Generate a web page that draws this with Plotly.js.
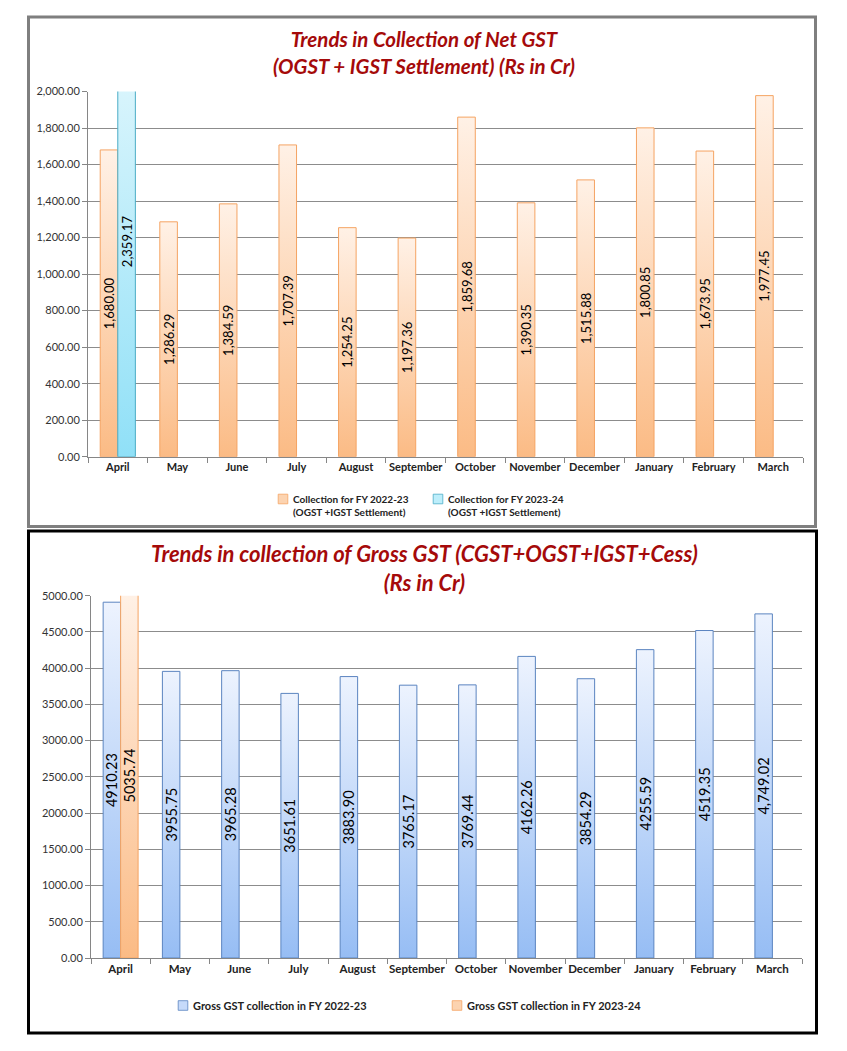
<!DOCTYPE html>
<html><head><meta charset="utf-8">
<script src="https://cdn.plot.ly/plotly-3.0.1.min.js"></script>
<style>html,body{margin:0;padding:0;background:#fff}#chart{width:847px;height:1051px}</style>
</head><body><div id="chart"></div>
<script>
const months = ['April','May','June','July','August','September','October','November','December','January','February','March'];
const netFY2223 = [1680.00,1286.29,1384.59,1707.39,1254.25,1197.36,1859.68,1390.35,1515.88,1800.85,1673.95,1977.45];
const netFY2324 = [2359.17,null,null,null,null,null,null,null,null,null,null,null];
const grossFY2223 = [4910.23,3955.75,3965.28,3651.61,3883.90,3765.17,3769.44,4162.26,3854.29,4255.59,4519.35,4749.02];
const grossFY2223Labels = ['4910.23','3955.75','3965.28','3651.61','3883.90','3765.17','3769.44','4162.26','3854.29','4255.59','4519.35','4,749.02'];
const grossFY2324 = [5035.74,null,null,null,null,null,null,null,null,null,null,null];
const grossFY2324Labels = ['5035.74','','','','','','','','','','',''];

const W = 847, H = 1051;
const px = v => v / W;
const py = v => 1 - v / H;

const labelFont = (s) => ({family: 'Lato', size: s, color: '#000'});
const common = {type: 'bar', x: months, textposition: 'inside', textangle: -90,
  insidetextanchor: 'middle', constraintext: 'none', cliponaxis: true, hoverinfo: 'skip'};

const data = [
  Object.assign({}, common, {y: netFY2223, xaxis: 'x', yaxis: 'y', legend: 'legend',
    name: 'Collection for FY 2022-23<br>(OGST +IGST Settlement)',
    texttemplate: '%{y:,.2f}', textfont: labelFont(13),
    marker: {color: '#fcd3b0', line: {color: '#f5a463', width: 1}}}),
  Object.assign({}, common, {y: netFY2324, xaxis: 'x', yaxis: 'y', legend: 'legend2',
    name: 'Collection for FY 2023-24<br>(OGST +IGST Settlement)',
    texttemplate: '%{y:,.2f}', textfont: labelFont(13),
    marker: {color: '#bdeefb', line: {color: '#4bacc6', width: 1}}}),
  Object.assign({}, common, {y: grossFY2223, text: grossFY2223Labels, texttemplate: '%{text}',
    xaxis: 'x2', yaxis: 'y2', legend: 'legend3',
    name: 'Gross GST collection in FY 2022-23', textfont: labelFont(14.5),
    marker: {color: '#c6dafa', line: {color: '#5b84c0', width: 1}}}),
  Object.assign({}, common, {y: grossFY2324, text: grossFY2324Labels, texttemplate: '%{text}',
    xaxis: 'x2', yaxis: 'y2', legend: 'legend4',
    name: 'Gross GST collection in FY 2023-24', textfont: labelFont(14.5),
    marker: {color: '#fcd3b0', line: {color: '#f5a463', width: 1}}})
];

const xCommon = {type: 'category', showline: true, linecolor: '#868686', linewidth: 1,
  ticks: 'outside', tickson: 'boundaries', ticklen: 5, tickcolor: '#868686', tickangle: 0,
  showgrid: false, zeroline: false, fixedrange: true,
  tickfont: {family: 'Lato', size: 11, color: '#222', weight: 'bold'}};
const yCommon = {showline: true, linecolor: '#868686', linewidth: 1, ticks: 'outside',
  ticklen: 5, tickcolor: '#868686', showgrid: true, gridcolor: '#8c8c8c', gridwidth: 1,
  zeroline: false, fixedrange: true,
  tickfont: {family: 'Lato', size: 11, color: '#333'}};

const legTop = (x) => ({orientation: 'h', x: px(x), y: py(486), xanchor: 'left', yanchor: 'top',
  valign: 'top', bgcolor: 'rgba(0,0,0,0)',
  font: {family: 'Lato', size: 10, color: '#222', weight: 'bold'}});
const legBot = (x) => ({orientation: 'h', x: px(x), y: py(991), xanchor: 'left', yanchor: 'top',
  bgcolor: 'rgba(0,0,0,0)',
  font: {family: 'Lato', size: 11, color: '#222', weight: 'bold'}});

const layout = {
  width: W, height: H, margin: {l: 0, r: 0, t: 0, b: 0},
  paper_bgcolor: '#fff', plot_bgcolor: 'rgba(0,0,0,0)',
  barmode: 'group', bargap: 0.41, bargroupgap: 0,
  xaxis: Object.assign({}, xCommon, {domain: [px(88), px(803)], anchor: 'y'}),
  yaxis: Object.assign({}, yCommon, {domain: [py(456.7), py(91.5)], anchor: 'x',
    range: [0, 2000], dtick: 200, tickformat: ',.2f'}),
  xaxis2: Object.assign({}, xCommon, {domain: [px(91), px(802)], anchor: 'y2',
    tickfont: {family: 'Lato', size: 11.5, color: '#222', weight: 'bold'}}),
  yaxis2: Object.assign({}, yCommon, {domain: [py(958), py(595.7)], anchor: 'x2',
    range: [0, 5000], dtick: 500, tickformat: '.2f'}),
  showlegend: true,
  legend: legTop(253),
  legend2: legTop(408),
  legend3: legBot(153),
  legend4: legBot(427),
  annotations: [
    {xref: 'paper', yref: 'paper', x: px(424), y: py(52), xanchor: 'center', yanchor: 'middle',
     showarrow: false, text: 'Trends in Collection of Net GST<br>(OGST + IGST Settlement) (Rs in Cr)',
     font: {family: 'Lato', size: 20.5, color: '#a50a0a', weight: 'bold', style: 'italic'}},
    {xref: 'paper', yref: 'paper', x: px(424), y: py(568), xanchor: 'center', yanchor: 'middle',
     showarrow: false, text: 'Trends in collection of Gross GST (CGST+OGST+IGST+Cess)<br>(Rs in Cr)',
     font: {family: 'Lato', size: 22, color: '#a50a0a', weight: 'bold', style: 'italic'}}
  ],
  shapes: [
    {type: 'rect', xref: 'paper', yref: 'paper', x0: px(28.5), x1: px(815.5), y0: py(526.5), y1: py(17),
     line: {color: '#7f7f7f', width: 3}},
    {type: 'rect', xref: 'paper', yref: 'paper', x0: px(28.5), x1: px(816.5), y0: py(1033), y1: py(531),
     line: {color: '#000', width: 3}}
  ]
};

const gd = document.getElementById('chart');
Plotly.newPlot(gd, data, layout, {staticPlot: true, displayModeBar: false}).then(applyStyling);

function applyStyling() {
  const svg = gd.querySelector('svg.main-svg');
  let defs = svg.querySelector('defs');
  const ns = 'http://www.w3.org/2000/svg';
  const grads = [
    ['gradNet1', '#fff1e6', '#fbbb85'],
    ['gradNet2', '#e4f8fd', '#90e0f7'],
    ['gradGross1', '#edf3fe', '#96bdf4'],
    ['gradGross2', '#fff1e6', '#fbbb85']
  ];
  grads.forEach(([id, c1, c2]) => {
    const lg = document.createElementNS(ns, 'linearGradient');
    lg.setAttribute('id', id);
    lg.setAttribute('x1', '0'); lg.setAttribute('y1', '0');
    lg.setAttribute('x2', '0'); lg.setAttribute('y2', '1');
    [[0, c1], [1, c2]].forEach(([o, c]) => {
      const s = document.createElementNS(ns, 'stop');
      s.setAttribute('offset', o); s.setAttribute('stop-color', c);
      lg.appendChild(s);
    });
    defs.appendChild(lg);
  });
  gd.querySelectorAll('.barlayer .trace').forEach(tr => {
    const d = tr.__data__;
    if (!d || !d[0] || !d[0].trace) return;
    const g = grads[d[0].trace.index];
    if (!g) return;
    tr.querySelectorAll('.point path').forEach(p => { p.style.fill = 'url(#' + g[0] + ')'; });
  });
  // bring legend swatches closer to their text, and shrink them like the reference
  gd.querySelectorAll('.legendpoints').forEach(lp => {
    lp.setAttribute('transform', 'translate(14,0) scale(0.8)');
  });
}
</script>
</body></html>
